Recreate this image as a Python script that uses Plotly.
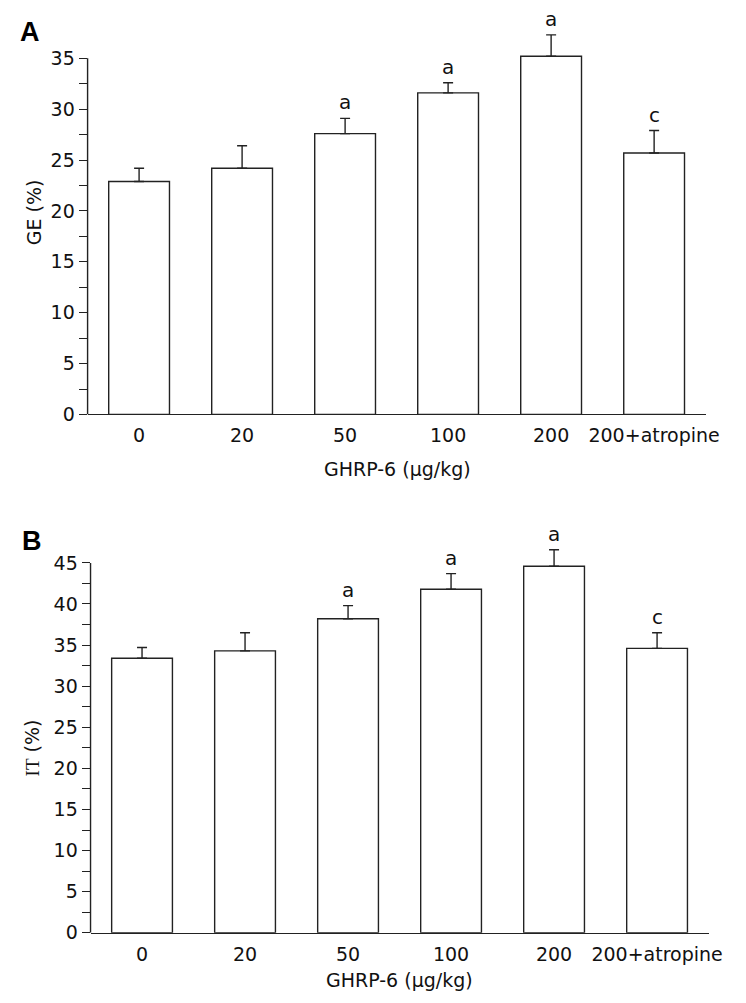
import plotly.graph_objects as go

categories = ["0", "20", "50", "100", "200", "200+atropine"]
ge_mean = [22.9, 24.2, 27.6, 31.6, 35.2, 25.7]
ge_se = [1.3, 2.2, 1.5, 1.0, 2.1, 2.2]
it_mean = [33.4, 34.3, 38.2, 41.8, 44.6, 34.6]
it_se = [1.3, 2.2, 1.6, 1.9, 2.0, 1.9]
sig_labels = ["", "", "a", "a", "a", "c"]

ge_ticks = [i * 2.5 for i in range(15)]
it_ticks = [i * 2.5 for i in range(19)]

W, H = 746, 1003
FONT = "Tahoma, DejaVu Sans, sans-serif"
LC = "#222222"

def px_x(p):
    return p / W

def px_y(p):
    return 1 - p / H

fig = go.Figure()

panels = [
    dict(mean=ge_mean, se=ge_se, xa="x", ya="y", ymax=35, ytop=39,
         ticks=ge_ticks, xd=[81, 710], y0px=411, scale=10.29),
    dict(mean=it_mean, se=it_se, xa="x2", ya="y2", ymax=45, ytop=47.5,
         ticks=it_ticks, xd=[84, 713], y0px=935, scale=8.31),
]

for i, p in enumerate(panels):
    fig.add_trace(go.Bar(
        x=categories, y=p["mean"], xaxis=p["xa"], yaxis=p["ya"],
        marker=dict(color="white", line=dict(color=LC, width=1.4)),
        error_y=dict(type="data", symmetric=False, array=p["se"],
                     arrayminus=[0] * len(p["se"]), color=LC,
                     thickness=1.4, width=5),
        showlegend=False,
    ))
    for idx, (m, s, lab) in enumerate(zip(p["mean"], p["se"], sig_labels)):
        if lab:
            fig.add_annotation(x=idx, y=m + s, xref=p["xa"], yref=p["ya"],
                               text=lab, showarrow=False, xanchor="center",
                               yanchor="bottom", yshift=2,
                               font=dict(family=FONT, size=20, color="#111"))
    # y axis line only up to the last labelled tick
    fig.add_shape(type="line", xref=p["xa"] + " domain", yref=p["ya"],
                  x0=0, x1=0, y0=0, y1=p["ymax"], line=dict(color=LC, width=1.4))

ax_common = dict(showgrid=False, zeroline=False)

for i, p in enumerate(panels):
    top_px = p["y0px"] - p["ytop"] * p["scale"]
    suffix = "" if i == 0 else "2"
    fig.layout["xaxis" + suffix] = dict(
        type="category", range=[-0.5, 5.5], domain=[px_x(p["xd"][0]), px_x(p["xd"][1])],
        anchor="y" + suffix, showline=True, linecolor=LC, linewidth=1.4, ticks="",
        tickfont=dict(family=FONT, size=19, color="#111"), ticklabelstandoff=4,
        **ax_common)
    fig.layout["yaxis" + suffix] = dict(
        range=[0, p["ytop"]], domain=[px_y(p["y0px"]), px_y(top_px)],
        anchor="x" + suffix, showline=False,
        tickvals=p["ticks"],
        ticktext=[(str(int(t)) if t % 5 == 0 else "") for t in p["ticks"]],
        ticks="outside", ticklen=8, tickwidth=1.4, tickcolor=LC,
        tickfont=dict(family=FONT, size=19, color="#111"),
        **ax_common)

def label(x, y, text, size=19, angle=0, family=FONT, color="#111"):
    fig.add_annotation(x=px_x(x), y=px_y(y), xref="paper", yref="paper",
                       text=text, showarrow=False, textangle=angle,
                       xanchor="center", yanchor="middle",
                       font=dict(family=family, size=size, color=color))

label(396, 466, "GHRP-6 (μg/kg)")
label(398, 983, "GHRP-6 (μg/kg)")
label(26, 207, "GE (%)", angle=-90)
label(24, 748, "<span style='font-family:Liberation Serif'>IT</span> (%)", angle=-90)
label(22, 24, "<b>A</b>", size=27, family="Liberation Sans, Arial, sans-serif", color="#000")
label(24, 539, "<b>B</b>", size=27, family="Liberation Sans, Arial, sans-serif", color="#000")

fig.update_layout(
    width=W, height=H, margin=dict(l=0, r=0, t=0, b=0),
    paper_bgcolor="white", plot_bgcolor="white",
    bargap=0.41,
)

fig.write_html("out.html")
